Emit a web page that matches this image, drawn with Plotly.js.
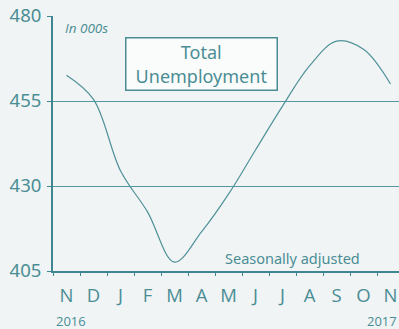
<!DOCTYPE html>
<html><head><meta charset="utf-8">
<script src="https://cdn.plot.ly/plotly-3.0.1.min.js"></script>
<style>html,body{margin:0;padding:0;background:#f0f4f4;}#chart{width:399px;height:329px;}</style>
</head><body><div id="chart"></div>
<script>
const months = ["N","D","J","F","M","A","M","J","J","A","S","O","N"];
const unemployment = [462.6, 455.5, 434.5, 422.4, 407.6, 416.5, 427.6, 440.6, 453.5, 465.3, 472.6, 470.2, 460.0];
const yTicks = [405, 430, 455, 480];
const teal = "#4a8d95";
const xIdx = months.map((m, i) => i);

const trace = {
  x: xIdx, y: unemployment, type: "scatter", mode: "lines",
  line: {color: "#4f9199", width: 1.2, shape: "spline", smoothing: 1.0},
  hoverinfo: "skip"
};

const layout = {
  width: 399, height: 329,
  margin: {l: 53, r: 0, t: 16, b: 58},
  paper_bgcolor: "#f0f4f4", plot_bgcolor: "#f0f4f4",
  showlegend: false,
  font: {family: "Open Sans, sans-serif", color: teal},
  xaxis: {
    range: [-0.5, 12.315], tickvals: xIdx, ticktext: months, ticks: "",
    tickfont: {size: 18.5, color: teal}, showgrid: false, zeroline: false,
    showline: true, linecolor: "#3f8790", linewidth: 2, ticklabelstandoff: 7,
    minor: {tick0: 0.5, dtick: 1, ticks: "outside", ticklen: 3, tickcolor: "#3f8790", tickwidth: 1, showgrid: false},
    fixedrange: true
  },
  yaxis: {
    range: [405, 480], tickvals: yTicks, ticktext: yTicks.map(String),
    ticks: "outside", ticklen: 4, tickcolor: "#3f8790", tickwidth: 1,
    tickfont: {size: 18.5, color: teal, family: "Noto Sans, sans-serif"},
    showgrid: true, gridcolor: "#5596a0", gridwidth: 1, zeroline: false,
    showline: true, linecolor: "#3f8790", linewidth: 2, ticklabelstandoff: 2,
    fixedrange: true
  },
  annotations: [
    {xref: "paper", yref: "paper", x: (63-53)/346, y: (271-28)/255, xanchor: "left", yanchor: "middle",
     text: "<i>In 000s</i>", showarrow: false, font: {size: 13.5, color: teal}},
    {xref: "paper", yref: "paper", x: (201-53)/346, y: (271-63.5)/255, xanchor: "center", yanchor: "middle",
     text: "Total<br>Unemployment", showarrow: false, font: {size: 18, color: teal, family: "Noto Sans, sans-serif"},
     bordercolor: "#4a8d95", borderwidth: 1.5, bgcolor: "#fafcfc", borderpad: 2, align: "center",
     width: 146, height: 47},
    {xref: "paper", yref: "paper", x: (292-53)/346, y: (271-258)/255, xanchor: "center", yanchor: "middle",
     text: "Seasonally adjusted", showarrow: false, font: {size: 14.5, color: teal, family: "Noto Sans, sans-serif"}},
    {xref: "paper", yref: "paper", x: (71-53)/346, y: (271-321)/255, xanchor: "center", yanchor: "middle",
     text: "2016", showarrow: false, font: {size: 13, color: teal}},
    {xref: "paper", yref: "paper", x: 1, y: (271-321)/255, xanchor: "right", yanchor: "middle",
     text: "2017", showarrow: false, font: {size: 13, color: teal}}
  ]
};

Plotly.newPlot("chart", [trace], layout, {displayModeBar: false, staticPlot: true});
</script></body></html>
